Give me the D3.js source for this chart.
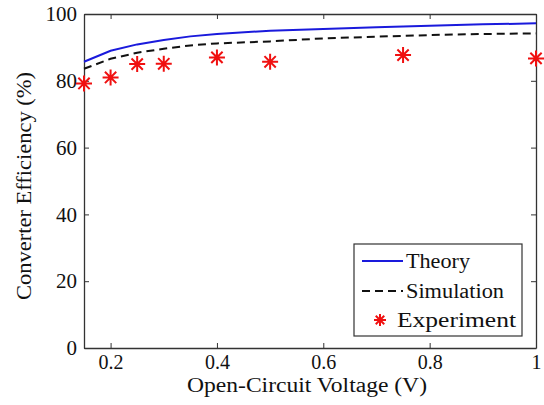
<!DOCTYPE html>
<html>
<head>
<meta charset="utf-8">
<script src="https://cdn.jsdelivr.net/npm/d3@7"></script>
<style>
  body { margin: 0; background: #fff; }
</style>
</head>
<body>
<svg id="chart"></svg>
<script>
const width = 544;
const height = 405;

// values
const theoryV = [0.15, 0.2, 0.25, 0.3, 0.35, 0.4, 0.5, 0.6, 0.7, 0.8, 0.9, 1.0];
const theoryEff = [85.7, 89.0, 90.9, 92.2, 93.3, 94.0, 95.0, 95.5, 96.0, 96.5, 96.9, 97.2];
const simV = [0.15, 0.2, 0.25, 0.3, 0.35, 0.4, 0.5, 0.6, 0.7, 0.8, 0.9, 1.0];
const simEff = [83.6, 86.6, 88.4, 89.6, 90.6, 91.2, 91.8, 92.7, 93.2, 93.7, 94.0, 94.2];
const expV = [0.15, 0.2, 0.25, 0.3, 0.4, 0.5, 0.75, 1.0];
const expEff = [79.2, 81.0, 85.0, 85.1, 87.0, 85.7, 87.7, 86.7];
const xTicks = [0.2, 0.4, 0.6, 0.8, 1];
const yTicks = [0, 20, 40, 60, 80, 100];
const seriesNames = ["Theory", "Simulation", "Experiment"];

const FONT = "'Times New Roman', Times, 'Liberation Serif', 'Noto Serif', 'DejaVu Serif', serif";
const margin = {top: 14, right: 8, bottom: 57, left: 84};

const svg = d3.select("#chart")
    .attr("width", width)
    .attr("height", height);

const x = d3.scaleLinear().domain([0.15, 1]).range([margin.left, width - margin.right]);
const y = d3.scaleLinear().domain([0, 100]).range([height - margin.bottom, margin.top]);

const tickLen = 5;
const fmt = d => String(d);

// axes (ticks pointing inward, mirrored on top/right)
const bottomAxis = svg.append("g")
    .attr("transform", `translate(0,${y(0)})`)
    .call(d3.axisBottom(x).tickValues(xTicks).tickFormat(fmt).tickSizeInner(-tickLen).tickSizeOuter(0).tickPadding(7));
const topAxis = svg.append("g")
    .attr("transform", `translate(0,${y(100)})`)
    .call(d3.axisTop(x).tickValues(xTicks).tickFormat("").tickSizeInner(-tickLen).tickSizeOuter(0));
const leftAxis = svg.append("g")
    .attr("transform", `translate(${x(0.15)},0)`)
    .call(d3.axisLeft(y).tickValues(yTicks).tickFormat(fmt).tickSizeInner(-tickLen).tickSizeOuter(0).tickPadding(7));
const rightAxis = svg.append("g")
    .attr("transform", `translate(${x(1)},0)`)
    .call(d3.axisRight(y).tickValues(yTicks).tickFormat("").tickSizeInner(-tickLen).tickSizeOuter(0));

[bottomAxis, topAxis, leftAxis, rightAxis].forEach(g => {
    g.attr("font-family", FONT);
    g.select(".domain").attr("stroke", "#333").attr("stroke-width", 1.3);
    g.selectAll(".tick line").attr("stroke", "#333");
    g.selectAll("text").attr("font-size", 21).attr("fill", "#111")
        .style("font-family", FONT);
});
bottomAxis.selectAll("text").attr("font-size", 20);

const line = d3.line().x(d => x(d[0])).y(d => y(d[1]));

svg.append("path")
    .datum(d3.zip(simV, simEff))
    .attr("fill", "none")
    .attr("stroke", "#111")
    .attr("stroke-width", 2)
    .attr("stroke-dasharray", "8,5")
    .attr("d", line);

svg.append("path")
    .datum(d3.zip(theoryV, theoryEff))
    .attr("fill", "none")
    .attr("stroke", "#1a1adc")
    .attr("stroke-width", 2)
    .attr("d", line);

function star(g, cx, cy, r) {
    const a = r * Math.SQRT1_2;
    g.append("path")
        .attr("d", `M${cx - r},${cy}L${cx + r},${cy}M${cx},${cy - r}L${cx},${cy + r}` +
            `M${cx - a},${cy - a}L${cx + a},${cy + a}M${cx - a},${cy + a}L${cx + a},${cy - a}`)
        .attr("stroke", "#f01010")
        .attr("stroke-width", 2)
        .attr("fill", "none");
}

const stars = svg.append("g");
expV.forEach((v, i) => star(stars, x(v), y(expEff[i]), 8));

// axis labels (the reference type is a little wide, so stretch to its measured length)
svg.append("text")
    .attr("x", 187)
    .attr("y", 392)
    .attr("font-size", 20)
    .attr("fill", "#111")
    .attr("textLength", 240)
    .attr("lengthAdjust", "spacingAndGlyphs")
    .style("font-family", FONT)
    .text("Open-Circuit Voltage (V)");

svg.append("text")
    .attr("transform", `translate(31,${(y(0) + y(100)) / 2 + 5}) rotate(-90)`)
    .attr("text-anchor", "middle")
    .attr("font-size", 20)
    .attr("fill", "#111")
    .attr("textLength", 228)
    .attr("lengthAdjust", "spacingAndGlyphs")
    .style("font-family", FONT)
    .text("Converter Efficiency (%)");

// legend
const legend = svg.append("g");
legend.append("rect")
    .attr("x", 354).attr("y", 244)
    .attr("width", 168).attr("height", 92)
    .attr("fill", "#fff")
    .attr("stroke", "#333")
    .attr("stroke-width", 1.2);

const rows = [
    {yy: 261, tx: 406, base: 268, len: 64},
    {yy: 291, tx: 406, base: 298, len: 98},
    {yy: 320, tx: 397, base: 327, len: 119}
];

legend.append("line")
    .attr("x1", 362).attr("x2", 403).attr("y1", rows[0].yy).attr("y2", rows[0].yy)
    .attr("stroke", "#1a1adc").attr("stroke-width", 2);
legend.append("line")
    .attr("x1", 362).attr("x2", 403).attr("y1", rows[1].yy).attr("y2", rows[1].yy)
    .attr("stroke", "#111").attr("stroke-width", 2).attr("stroke-dasharray", "8,5");
star(legend, 380, rows[2].yy, 6);

legend.selectAll("text.lab")
    .data(rows)
    .enter().append("text")
    .attr("class", "lab")
    .attr("x", d => d.tx)
    .attr("y", d => d.base)
    .attr("font-size", 20)
    .attr("fill", "#111")
    .attr("textLength", d => d.len)
    .attr("lengthAdjust", "spacingAndGlyphs")
    .style("font-family", FONT)
    .text((d, i) => seriesNames[i]);
</script>
</body>
</html>
